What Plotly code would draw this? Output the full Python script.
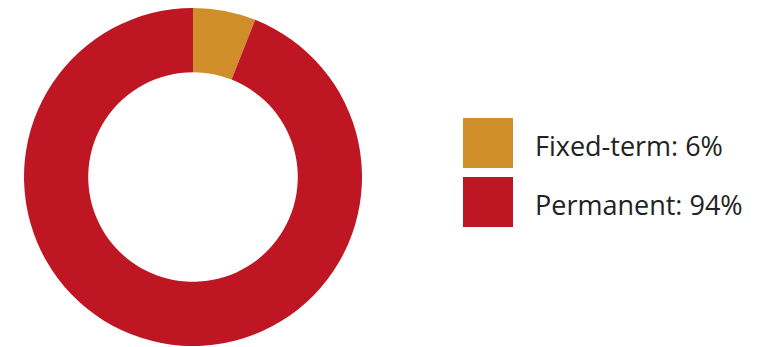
import plotly.graph_objects as go

labels = ["Fixed-term", "Permanent"]
values = [6, 94]
colors = ["#CF8E2A", "#BE1622"]

W, H = 757, 347
OFF = 8  # page body margin offset compensation
fig = go.Figure()
fig.add_trace(go.Pie(
    labels=labels, values=values, hole=0.62, sort=False, direction="clockwise",
    rotation=0, marker=dict(colors=colors, line=dict(width=0)),
    textinfo="none", hoverinfo="label+percent", showlegend=False,
    domain=dict(x=[(24 - OFF) / W, (362 - OFF) / W],
                y=[1 - (346 - OFF) / H, 1 - (8 - OFF) / H]),
))

# custom legend
sq_x0, sq_x1 = 463 - OFF, 513 - OFF
tops = [118 - OFF, 177 - OFF]
for lab, val, col, top in zip(labels, values, colors, tops):
    fig.add_shape(type="rect", xref="paper", yref="paper",
                  x0=sq_x0 / W, x1=sq_x1 / W, y0=1 - (top + 50) / H, y1=1 - top / H,
                  fillcolor=col, line=dict(width=0))
    fig.add_annotation(xref="paper", yref="paper", x=(533 - OFF) / W, y=1 - (top + 27) / H,
                       xanchor="left", yanchor="middle", showarrow=False,
                       text=f"{lab}: {val}%",
                       font=dict(family="Open Sans", size=27, color="#222222"))

fig.update_layout(width=W, height=H, margin=dict(l=0, r=0, t=0, b=0),
                  paper_bgcolor="white", plot_bgcolor="white")
fig.write_html("out.html")
